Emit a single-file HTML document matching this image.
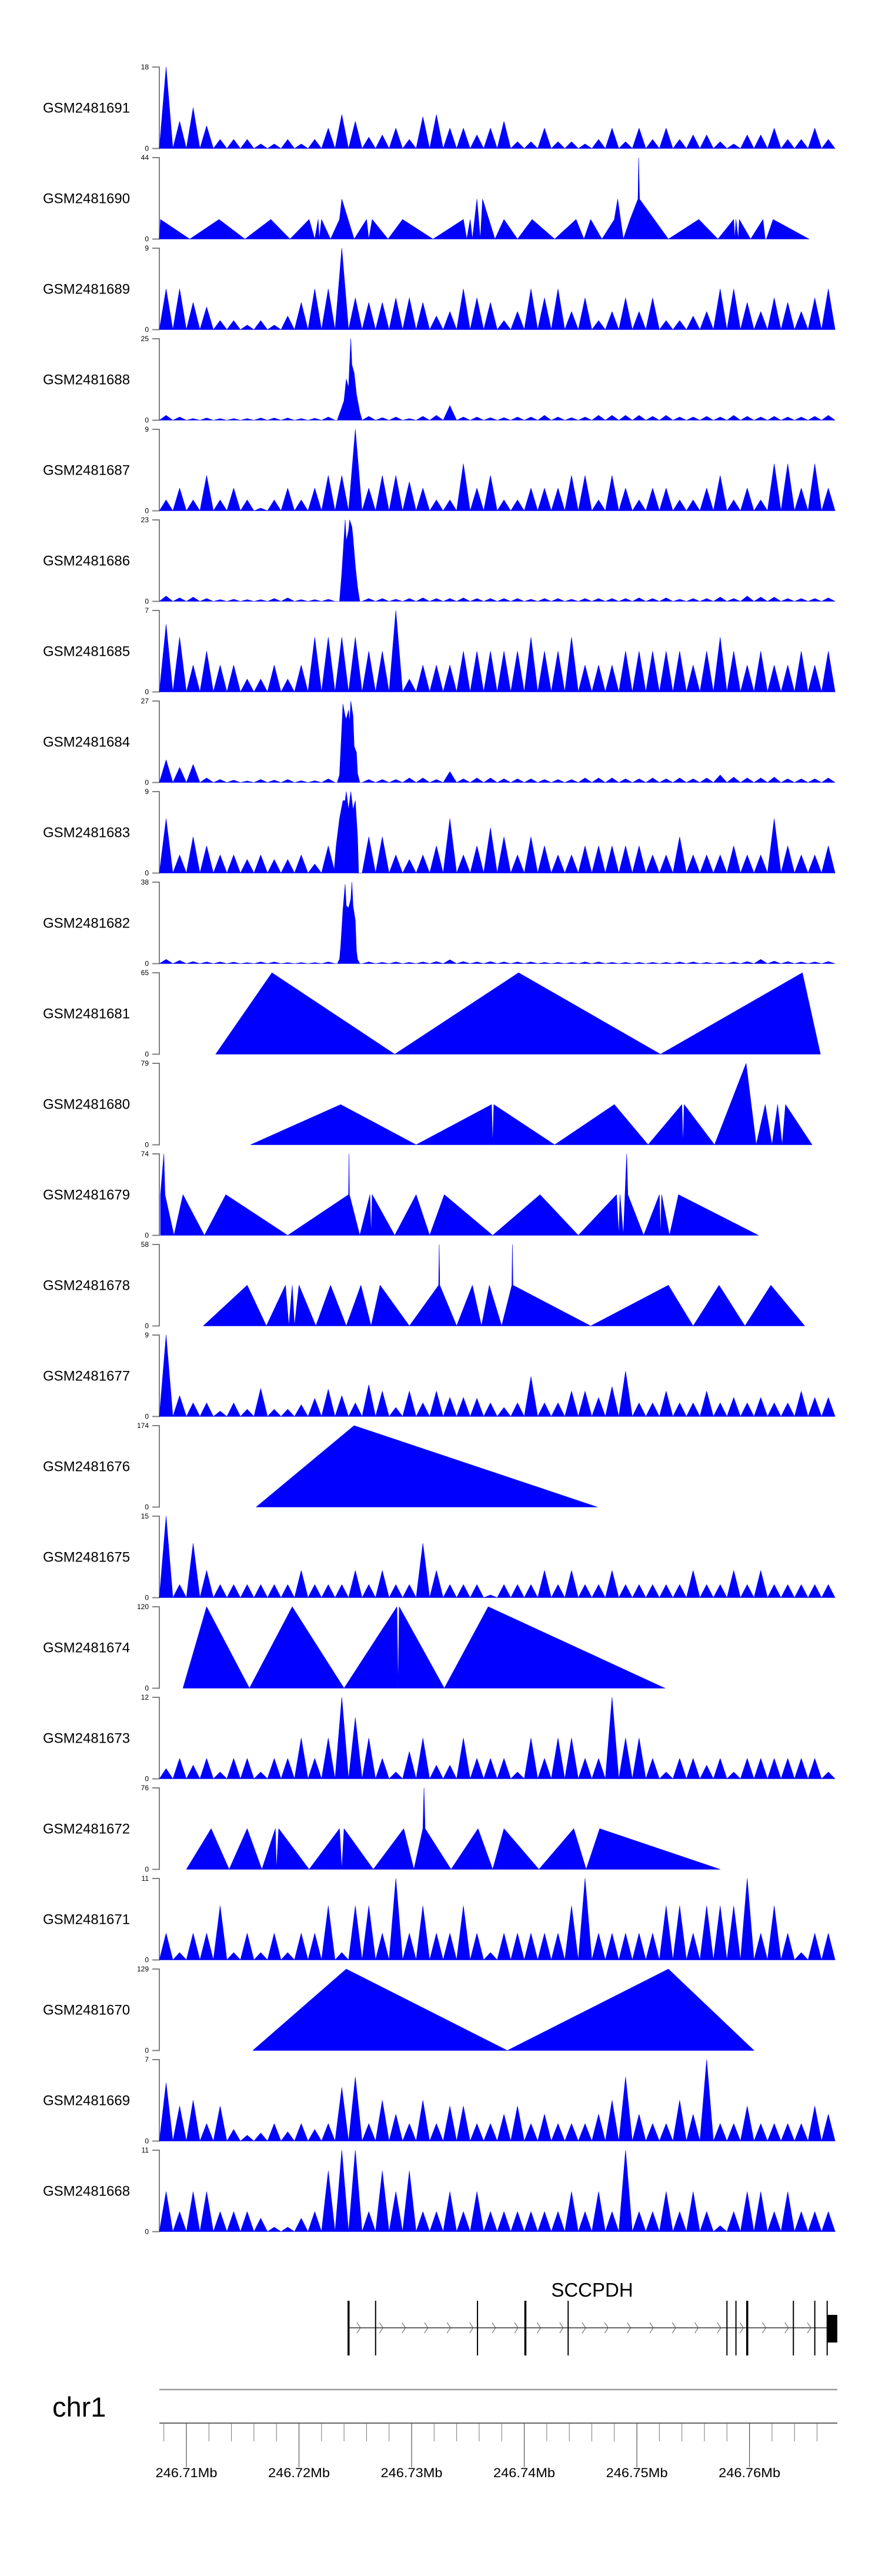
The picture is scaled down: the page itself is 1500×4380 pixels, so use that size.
<!DOCTYPE html>
<html><head><meta charset="utf-8"><title>Coverage tracks – SCCPDH</title>
<style>html,body{margin:0;padding:0;background:#fff}svg{display:block}text{font-family:"Liberation Sans",Arial,sans-serif}</style>
</head><body>
<svg id="chart" width="1500" height="4380" viewBox="0 0 1500 4380" xmlns="http://www.w3.org/2000/svg"></svg>
<script>
// ---------- data ----------
const sampleNames = ["GSM2481691","GSM2481690","GSM2481689","GSM2481688","GSM2481687","GSM2481686","GSM2481685","GSM2481684","GSM2481683","GSM2481682","GSM2481681","GSM2481680","GSM2481679","GSM2481678","GSM2481677","GSM2481676","GSM2481675","GSM2481674","GSM2481673","GSM2481672","GSM2481671","GSM2481670","GSM2481669","GSM2481668"];
const axisMax = [18,44,9,25,9,23,7,27,9,38,65,79,74,58,9,174,15,120,12,76,11,129,7,11];
// window: kb offset from 246.7076 Mb
const windowStartMb = 246.7076;
const windowKb = 60.2;
const binKb = 1.2;
// binned coverage (one value per 1.2 kb bin)
const bins691 = [18,6,9,5,2,2,2,1,1,2,1,2,4.5,7.5,6,2.5,3,4.5,2,7,7.5,4.5,4.5,3,4.5,6,1.5,1.5,4.5,1.5,1.5,1,2,4.5,1.5,4.5,2,4.5,2,3,3,1.5,1,3,3,4.5,2,2,4.5,2];
const bins689 = [4.5,4.5,3,2.5,1,1,0.5,1,0.5,1.5,3,4.5,4.5,9,3.5,3,3,3.5,3.5,3,1.5,2,4.5,3.5,3,1,2,4.5,3.5,4.5,2,3.5,1,2,3.5,2,3.5,1,1,1.5,2,4.5,4.5,3,2,3.5,3,2,3.5,4.5];
const bins688 = [1.5,1,0.5,0.7,0.5,0.5,0.5,0.7,0.7,0.7,0.5,0.6,1,0,0,1.2,0.8,1,0.5,1.2,1.5,4.5,1,1,0.8,0.8,1,1,1.5,1,0.8,1,1.5,1.5,1.5,1.5,1.2,1.5,1,1,1.2,1,1.5,1.2,1,1.2,1,1,1.2,1.5];
const bins687 = [1.2,2.5,1.2,3.9,1.2,2.5,1.2,0.3,1.2,2.5,1.2,2.5,3.9,3.9,9,2.5,3.9,3.9,3.2,2.5,1.2,1.2,5.2,2.5,3.9,1.2,1.2,2.5,2.5,2.5,3.9,3.9,1.2,3.9,2.5,1.2,2.5,2.5,1.2,1.2,2.5,3.9,1.2,2.5,1.2,5.2,5.2,2.5,5.2,2.5];
const bins686 = [1.5,1,1.2,0.8,0.5,0.6,0.5,0.5,0.8,1,0.5,0.5,0.6,0,0,0.8,0.8,0.6,0.8,1,0.8,0.8,1,0.8,0.8,0.8,0.8,0.6,0.8,0.8,0.6,0.8,0.8,0.8,0.8,1,0.8,1,0.6,0.8,0.8,1.2,0.8,1.5,1.2,1.2,0.8,0.8,0.8,1];
const bins685 = [5.8,4.7,2.3,3.5,2.3,2.3,1.1,1.1,2.3,1.1,2.3,4.7,4.7,4.7,4.7,3.5,3.5,7,1.1,2.3,2.3,2.3,3.5,3.5,3.5,3.5,3.5,4.7,3.5,3.5,4.7,2.3,2.3,2.3,3.5,3.5,3.5,3.5,3.5,2.3,3.5,4.7,3.5,2.3,3.5,2.3,2.3,3.5,2.3,3.5];
const bins684 = [7.5,5,6,1.5,1,0.8,0.5,1,0.8,1,0.6,0.6,1.2,0,0,1,1,1,1.5,1.5,1,3.6,1.2,1.5,1.5,1.2,1.2,1.2,1,1,1,1.5,1.5,1.5,1.2,1.2,1.5,1.2,1.5,1.2,1.5,2.5,1.8,1.5,1.5,1.8,1.2,1.2,1.2,1.5];
const bins683 = [6,2,4,3,2,2,1.5,2,1.5,1.5,2,1,3,0,0,4,4,2,1.5,2,3,6,2,3,5,4,2,4,3,2,2,3,3,3,3,3,2,2,4,2,2,2,3,2,2,6,3,2,2,3];
const bins682 = [2,1.5,1,0.8,0.8,0.7,0.5,0.8,0.8,0.5,0.5,0.5,0.8,0,0,0.8,0.6,0.8,0.6,0.8,1,1.8,1,0.8,1,0.8,0.8,0.8,0.6,0.6,0.6,0.8,0.8,0.6,0.6,0.6,0.6,0.6,0.8,0.8,0.6,0.6,0.8,1,2,1.2,1,0.8,0.8,1];
const bins677 = [9,2.3,1.5,1.5,0.6,1.5,0.8,3.1,0.8,0.8,1.3,2,3,2.3,1.5,3.5,2.8,1,2.8,1.5,2.8,2.1,2.1,2,1.5,1,1.5,4.4,1.5,1.5,2.8,2.8,2.1,3.3,5,1.5,1.5,2.8,1.5,1.5,2.8,1.5,2.1,1.5,2.1,1.5,1.5,2.8,2.1,2.1];
const bins675 = [15,2.4,10,5,2.4,2.4,2.4,2.4,2.4,2.4,5,2.4,2.4,2.4,5,2.4,5,2.4,2.4,10,5,2.4,2.4,2.4,0.5,2.4,2.4,2.4,5,2.4,5,2.4,2.4,5,2.4,2.4,2.4,2.4,2.4,5,2.4,2.4,5,2.4,5,2.4,2.4,2.4,2.4,2.4];
const bins673 = [1.5,3,2,3,1,3,3,1,3,3,6,3,6,12,9,6,3,1,4,6,2,2,6,3,3,3,1,6,3,6,6,3,3,12,6,6,3,1,3,3,2,3,1,3,3,3,3,3,3,1];
const bins671 = [3.6,1,3.6,3.6,7.3,1,3.6,1,3.6,1,3.6,3.6,7.3,1,7.3,7.3,3.6,11,3.6,7.3,3.6,3.6,7.3,3.6,1,3.6,3.6,3.6,3.6,3.6,7.3,11,3.6,3.6,3.6,3.6,3.6,7.3,7.3,3.6,7.3,7.3,7.3,11,3.6,7.3,3.6,1,3.6,3.6];
const bins669 = [5,3,3.5,1.5,3,1,0.5,0.7,1.5,0.8,1.5,1,1.5,4.6,5.5,1.5,3.5,2.3,1.5,3.5,1.5,3,3,1.5,1.5,2.3,3,1.5,2.3,1.5,1.5,1.5,2.3,3.5,5.5,2.3,1.5,1.5,3.5,2.3,7,1.5,1.5,3,1.5,1.5,1.5,1.5,3,2.3];
const bins668 = [5.4,2.7,5.4,5.4,2.7,2.7,2.7,1.8,0.6,0.6,1.8,2.7,8.2,11,11,2.7,8.2,5.4,8.2,2.7,2.7,5.4,2.7,5.4,2.7,2.7,2.7,2.7,2.7,2.7,5.4,2.7,5.4,2.7,11,2.7,2.7,5.4,2.7,5.4,2.7,0.8,2.7,5.4,5.4,2.7,5.4,2.7,2.7,2.7];
// peak clusters (kb, value)
const cl688Pos = [15.8,16.1,16.4,16.6,16.8,17.0,17.1,17.3,17.5,17.8,18.0];
const cl688Val = [0,3,6,12.6,10,25,17,14.5,8,2.5,0];
const cl686Pos = [16.0,16.2,16.4,16.5,16.6,16.8,16.9,17.1,17.2,17.4,17.6,17.8];
const cl686Val = [0,8,18,23,17,20,23,21,18,10,4,0];
const cl684Pos = [15.8,16.0,16.2,16.3,16.5,16.6,16.8,16.9,17.0,17.2,17.3,17.5,17.6,17.8];
const cl684Val = [0,2.5,18,26,22,21,24,20,27,22,12,10,3,0];
const cl683Pos = [15.5,15.7,16.0,16.3,16.5,16.6,16.8,17.0,17.2,17.4,17.6,17.7];
const cl683Val = [0,3,6,8,8,9,7,9,7,8,4,0];
const cl682Pos = [15.8,16.0,16.1,16.3,16.5,16.6,16.8,17.0,17.1,17.2,17.4,17.5,17.6,17.8];
const cl682Val = [0,2,8,25,37,27,26,30,38,27,20,6,2,0];
// explicit point tracks (kb, value)
const pos690 = [0,0.1,2.7,5.3,7.6,9.9,11.6,13.3,13.8,14.1,14.2,14.4,15.2,16.0,16.2,17.3,18.4,18.6,18.9,20.3,21.6,24.3,27.0,27.3,27.6,27.8,28.2,28.5,28.7,29.8,30.6,31.8,33.1,35.1,37.0,37.7,38.3,39.3,40.4,40.7,41.2,41.8,42.5,42.56,42.64,45.2,47.9,49.6,51.0,51.1,51.2,51.4,51.5,52.5,53.6,53.8,53.9,54.5,57.7];
const val690 = [0,10.6,0,10.6,0,10.6,0,10.6,0,10.6,0,10.6,0,10.6,21.6,0,10.6,0,10.6,0,10.6,0,10.6,0,10.6,0,21.6,0,21.6,0,10.6,0,10.6,0,10.6,0,10.6,0,10.6,21.6,0,10.6,21.6,44,21.6,0,10.6,0,10.6,0,10.6,0,10.6,0,10.6,0,0,10.6,0];
const pos681 = [5.0,10.0,20.9,31.9,44.5,57.1,58.7];
const val681 = [0,65,0,65,0,65,0];
const pos680 = [8.1,16.1,22.8,29.5,29.6,29.7,35.1,40.4,43.4,46.4,46.5,46.6,49.3,52.1,53.0,53.8,54.4,54.9,55.3,55.6,57.96];
const val680 = [0,39,0,39,0,39,0,39,0,39,0,39,0,79,0,39,0,39,0,39,0];
const pos679 = [0.1,0.4,0.5,1.3,2.1,4.0,5.9,11.4,16.8,16.84,16.88,17.8,18.7,18.8,18.9,20.9,22.8,24.0,25.3,29.6,33.8,37.2,40.6,40.8,40.9,41.2,41.5,41.6,43.0,44.4,44.5,44.6,45.3,46.1,53.2];
const val679 = [37,74,37,0,37,0,37,0,37,74,37,0,37,0,37,0,37,0,37,0,37,0,37,0,37,0,74,37,0,37,0,37,0,37,0];
const pos678 = [3.9,7.8,9.5,11.2,11.5,11.8,12.0,12.4,13.9,15.2,16.6,17.9,18.8,19.6,22.2,24.8,24.85,24.9,26.4,27.8,28.6,29.3,30.4,31.3,31.35,31.4,38.3,45.2,47.4,49.7,52.0,54.3,57.3];
const val678 = [0,29,0,29,0,29,0,29,0,29,0,29,0,29,0,29,58,29,0,29,0,29,0,29,58,29,0,29,0,29,0,29,0];
const pos676 = [8.6,17.3,38.9];
const val676 = [0,174,0];
const pos674 = [2.1,4.2,8.0,11.8,16.4,21.1,21.2,21.3,25.3,29.2,44.9];
const val674 = [0,120,0,120,0,120,0,120,0,120,0];
const pos672 = [2.4,4.6,6.2,7.8,9.1,10.3,10.4,10.6,13.3,16.0,16.2,16.4,19.0,21.7,22.6,23.4,23.5,23.6,25.9,28.3,29.6,30.6,33.7,36.8,37.9,39.1,49.8];
const val672 = [0,38,0,38,0,38,0,38,0,38,0,38,0,38,0,38,76,38,0,38,0,38,0,38,0,38,0];
const pos670 = [8.3,16.6,30.9,45.2,52.8];
const val670 = [0,129,0,129,0];
// gene model (kb)
const exonKb = [16.8,19.2,28.25,32.5,36.3,50.4,51.2,52.2,56.3,58.2,59.3];
const exonThick = [1,0,0,1,0,0,0,1,0,0,0];
const utrBoxKb = [59.3,60.2];
const geneName = "SCCPDH";
// ruler
const majorTickMb = [246.71,246.72,246.73,246.74,246.75,246.76];
const majorTickLabels = ["246.71Mb","246.72Mb","246.73Mb","246.74Mb","246.75Mb","246.76Mb"];

// ---------- layout ----------
const X0 = 271, X1 = 1424, TOP0 = 114, PITCH = 154, TH = 138.5;
const NS = "http://www.w3.org/2000/svg";
const svg = document.getElementById('chart');
function xs(kb){ return X0 + kb / windowKb * (X1 - X0); }
function mk(tag, attrs, parent){ const e = document.createElementNS(NS, tag); for (const k in attrs) e.setAttribute(k, attrs[k]); (parent||svg).appendChild(e); return e; }

const binTracks = {0:bins691,2:bins689,3:bins688,4:bins687,5:bins686,6:bins685,7:bins684,8:bins683,9:bins682,14:bins677,16:bins675,18:bins673,20:bins671,22:bins669,23:bins668};
const clusterTracks = {3:[cl688Pos,cl688Val],5:[cl686Pos,cl686Val],7:[cl684Pos,cl684Val],8:[cl683Pos,cl683Val],9:[cl682Pos,cl682Val]};
const pointTracks = {1:[pos690,val690],10:[pos681,val681],11:[pos680,val680],12:[pos679,val679],13:[pos678,val678],15:[pos676,val676],17:[pos674,val674],19:[pos672,val672],21:[pos670,val670]};

sampleNames.forEach((name, i) => {
  const top = TOP0 + i * PITCH, bot = top + TH, max = axisMax[i];
  const ys = v => bot - v / max * TH;
  const g = mk('g', {});
  
  
  const lab = mk('text', {x:73, y: top + TH/2 + 8, 'font-size':24, fill:'#000'}, g);
  lab.textContent = name;
  
  
  const ax = mk('path', {d:`M259 ${top}H${X0}V${bot}H259`, fill:'none', stroke:'#808080', 'stroke-width':2}, g);
  
  
  const tMax = mk('text', {x:253, y: top + 4, 'font-size':12, 'text-anchor':'end', fill:'#000'}, g);
  tMax.textContent = String(max);
  
  
  const t0 = mk('text', {x:253, y: bot + 4, 'font-size':12, 'text-anchor':'end', fill:'#000'}, g);
  t0.textContent = '0';
  
  
  let d = '';
  if (binTracks[i]) {
    binTracks[i].forEach((v, b) => {
      const s = b * binKb;
      d += `M${xs(s).toFixed(1)} ${bot}L${xs(s + binKb/2).toFixed(1)} ${ys(v).toFixed(1)}L${Math.min(xs(s + binKb), X1).toFixed(1)} ${bot}Z`;
    });
  }
  if (clusterTracks[i]) {
    const [p, v] = clusterTracks[i];
    d += `M${xs(p[0]).toFixed(1)} ${bot}` + p.map((k, j) => `L${xs(k).toFixed(1)} ${ys(v[j]).toFixed(1)}`).join('') + `L${xs(p[p.length-1]).toFixed(1)} ${bot}Z`;
  }
  if (pointTracks[i]) {
    const [p, v] = pointTracks[i];
    d += `M${xs(p[0]).toFixed(1)} ${bot}` + p.map((k, j) => `L${xs(k).toFixed(1)} ${ys(v[j]).toFixed(1)}`).join('') + `L${xs(p[p.length-1]).toFixed(1)} ${bot}Z`;
  }
  const area = mk('path', {d, fill:'#0000FF', stroke:'#0000FF', 'stroke-width':0.6, 'stroke-linejoin':'round'}, g);
  
  
});

// gene model
const gg = mk('g', {});


const gName = mk('text', {x: 1007, y: 3905, 'font-size':33, 'text-anchor':'middle', fill:'#000'}, gg);
gName.textContent = geneName;


const intr = mk('line', {x1: xs(exonKb[0]), x2: xs(utrBoxKb[1]), y1: 3958, y2: 3958, stroke:'#333', 'stroke-width':1.5}, gg);


for (let k = exonKb[0] + 0.9; k < utrBoxKb[0] - 0.3; k += 2.0) {
  const cx = xs(k);
  const ch = mk('path', {d:`M${cx-3} 3949L${cx+3} 3958L${cx-3} 3967`, fill:'none', stroke:'#555', 'stroke-width':1}, gg);
  
  
}
exonKb.forEach((k, j) => {
  const ex = mk('line', {x1: xs(k), x2: xs(k), y1: 3912, y2: 4005, stroke:'#000', 'stroke-width': exonThick[j] ? 3.5 : 2}, gg);
  
  
});
const ub = mk('rect', {x: xs(utrBoxKb[0]), y: 3936, width: xs(utrBoxKb[1]) - xs(utrBoxKb[0]), height: 47, fill:'#000'}, gg);



// ideogram line + chr label
const il = mk('line', {x1:X0, x2:X1, y1:4063, y2:4063, stroke:'#9a9a9a', 'stroke-width':2.5});


const chr = mk('text', {x:89, y:4109, 'font-size':47, fill:'#000'});
chr.textContent = 'chr1';



// genome axis
const ga = mk('g', {});


const gl = mk('line', {x1:X0, x2:X1, y1:4120, y2:4120, stroke:'#666', 'stroke-width':2}, ga);


for (let k = 0.4; k <= windowKb; k += 2.0) {
  const mt = mk('line', {x1: xs(k), x2: xs(k), y1: 4120, y2: 4151, stroke:'#777', 'stroke-width':1}, ga);
  
  
}
majorTickMb.forEach((mb, j) => {
  const x = xs((mb - windowStartMb) * 1000);
  const t = mk('line', {x1:x, x2:x, y1:4120, y2:4195, stroke:'#555', 'stroke-width':1.2}, ga);
  
  
  const tl = mk('text', {x, y:4212, 'font-size':22, 'text-anchor':'middle', fill:'#000', textLength:105, lengthAdjust:'spacingAndGlyphs'}, ga);
  tl.textContent = majorTickLabels[j];
  
  
});
</script>
</body></html>
